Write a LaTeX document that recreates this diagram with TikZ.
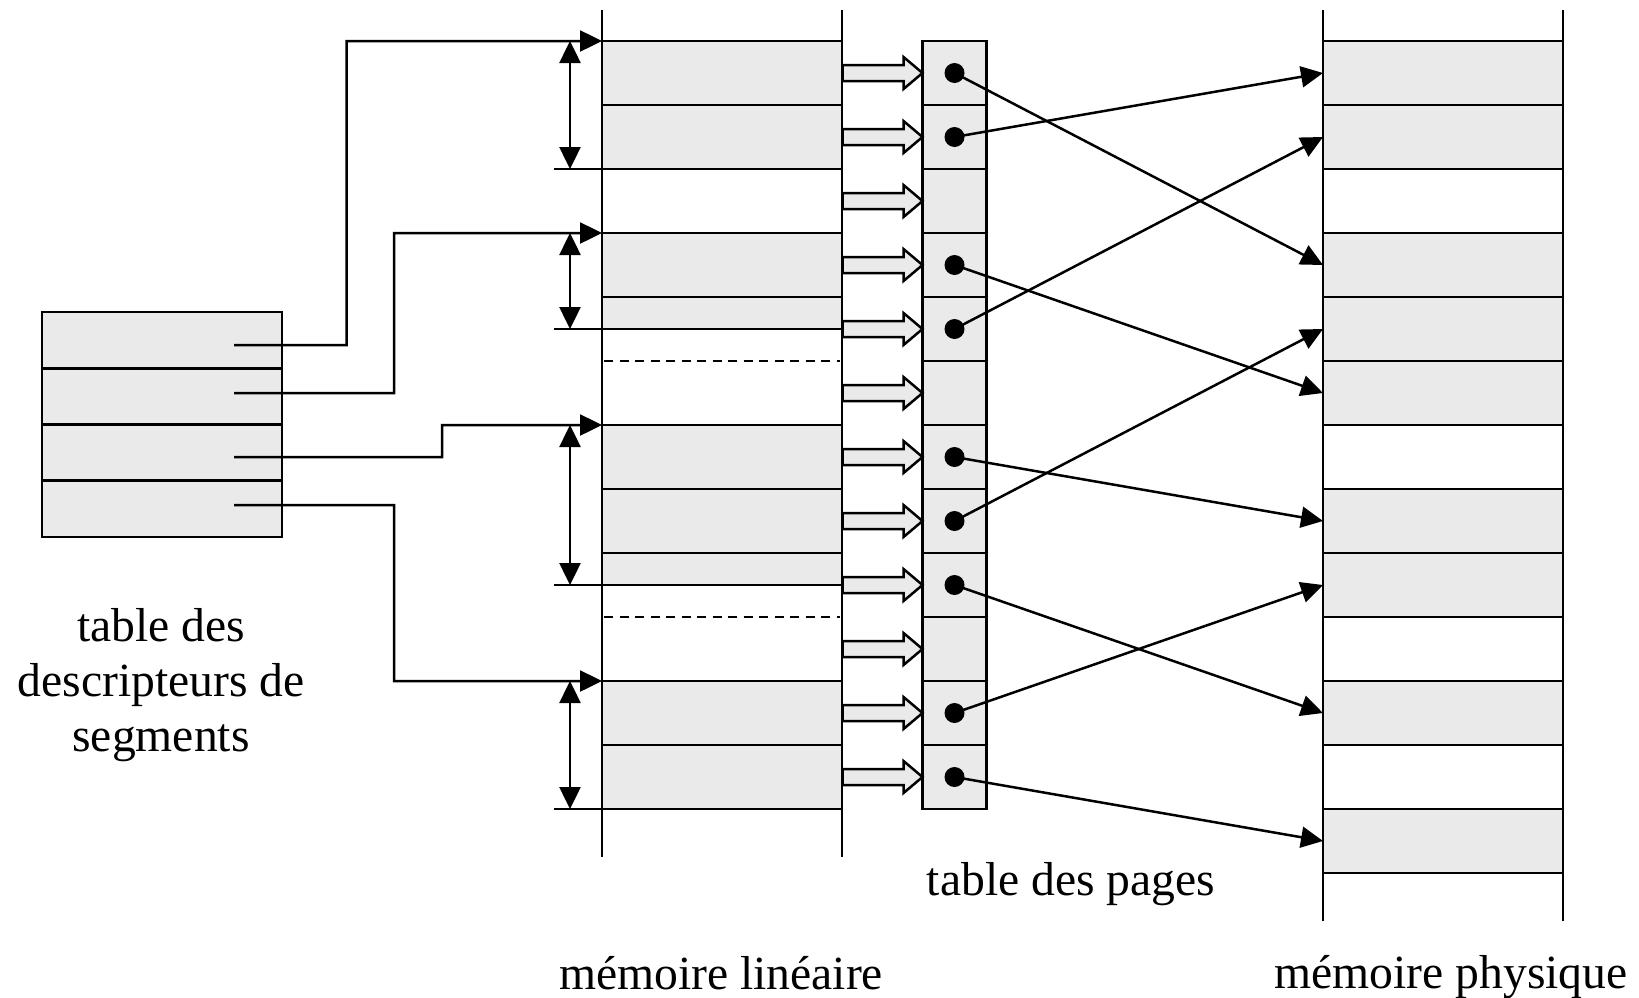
\documentclass[tikz,border=0pt]{standalone}
\usepackage{fontspec}
\setmainfont{Liberation Serif}
\usetikzlibrary{arrows.meta}
\definecolor{memgray}{RGB}{234,234,234}
\tikzset{
  cell/.style={draw, fill=memgray, inner sep=0pt, outer sep=0pt, minimum width=48mm, minimum height=12.8mm},
  ptcell/.style={cell, minimum width=12.8mm},
  desccell/.style={cell, minimum height=11.25mm},
  dot/.style={circle, fill=black, inner sep=0pt, minimum size=4mm},
  ptr/.style={-{Triangle[length=4.4mm,width=4.2mm]}},
  dimarrow/.style={{Triangle[length=4.4mm,width=4.2mm]}-{Triangle[length=4.4mm,width=4.2mm]}},
  lbl/.style={font=\fontsize{27.1pt}{31.3pt}\selectfont, inner sep=0pt}
}
\begin{document}
\begin{tikzpicture}[x=0.2mm, y=-0.2mm, line width=0.5mm]
\useasboundingbox (0,0) rectangle (1639,997);
\def\lin{722}
\def\pt{954.5}
\def\phy{1443}

% table des descripteurs
\foreach \i/\y in {1/340.1, 2/396.4, 3/452.6, 4/508.9}
  \node[desccell] (desc\i) at (162,\y) {};
\coordinate (e1) at (234,345);
\coordinate (e2) at (234,393);
\coordinate (e3) at (234,457);
\coordinate (e4) at (234,505);
\node[lbl, align=center] (desclbl) at (161,685) {table des\\descripteurs de\\segments};

% memoire lineaire
\draw (602,10) -- (602,857) (842,10) -- (842,857);
\foreach \n/\y/\h in {la1/73/12.8, la2/137/12.8, lb1/265/12.8, lb2/313/6.4, lc1/457/12.8, lc2/521/12.8, lc3/569/6.4, ld1/713/12.8, ld2/777/12.8}
  \node[cell, minimum height=\h mm] (\n) at (\lin,\y) {};
\draw[dash pattern=on 1.8mm off 1.3mm] (604,361) -- (840,361);
\draw[dash pattern=on 1.8mm off 1.3mm] (604,617) -- (840,617);
\foreach \a/\b in {la1/la2, lb1/lb2, lc1/lc3, ld1/ld2} {
  \draw (\b.south east) -- ([xshift=-9.6mm]\b.south west);
  \draw[dimarrow] ([xshift=-6.4mm]\a.north west) -- ([xshift=-6.4mm]\b.south west);
}
\node[lbl, anchor=base] (linlbl) at (721,989) {mémoire linéaire};

% descripteurs -> segments
\draw[ptr] (e1) -| (346.5,41) -- (la1.north west);
\draw[ptr] (e2) -| (394,233) -- (lb1.north west);
\draw[ptr] (e3) -| (442,425) -- (lc1.north west);
\draw[ptr] (e4) -| (394,681) -- (ld1.north west);

% table des pages
\foreach \i in {0,...,11}
  \node[ptcell] (pt\i) at (\pt,73+64*\i) {};
\foreach \i in {0,...,11}
  \draw[fill=memgray] (pt\i.west) -- ++(-19,-16) -- ++(0,8) -- ++(-61,0) -- ++(0,16) -- ++(61,0) -- ++(0,8) -- cycle;
\foreach \i in {0,1,3,4,6,7,8,10,11}
  \node[dot] (dot\i) at (pt\i) {};
\node[lbl, anchor=base] (ptlbl) at (1071,895) {table des pages};

% memoire physique
\draw (1323,10) -- (1323,921) (1563,10) -- (1563,921);
\foreach \i/\f in {0/memgray, 1/memgray, 2/white, 3/memgray, 4/memgray, 5/memgray, 6/white, 7/memgray, 8/memgray, 9/white, 10/memgray, 11/white, 12/memgray}
  \node[cell, fill=\f] (ph\i) at (\phy,73+64*\i) {};
\node[lbl, anchor=base] (phylbl) at (1451,988) {mémoire physique};

% pages -> cadres
\foreach \a/\b in {0/3, 1/0, 3/5, 4/1, 6/7, 7/4, 8/10, 10/8, 11/12}
  \draw[ptr] (dot\a.center) -- (ph\b.west);
\end{tikzpicture}
\end{document}
